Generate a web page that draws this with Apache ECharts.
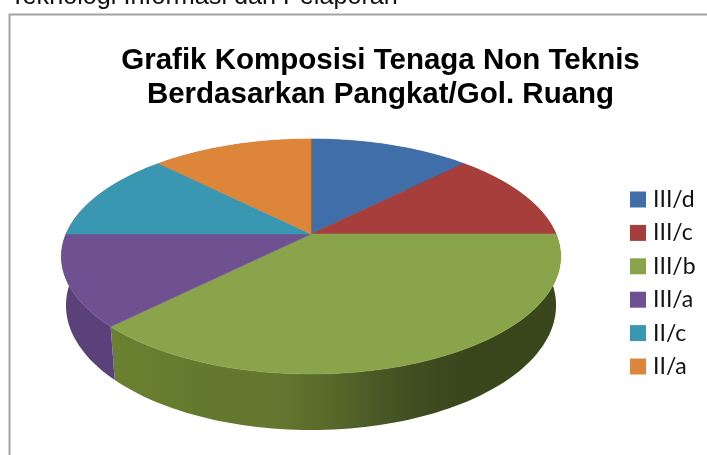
<!DOCTYPE html>
<html>
<head>
<meta charset="utf-8">
<style>html,body{margin:0;padding:0;background:#fff}#chart{width:707px;height:455px}</style>
<script src="https://cdn.jsdelivr.net/npm/echarts@6/dist/echarts.min.js"></script>
</head>
<body>
<div id="chart"></div>
<script>
// Composition of non-technical staff by rank / civil-service grade
const categories = ['III/d', 'III/c', 'III/b', 'III/a', 'II/c', 'II/a'];
const shares = [1, 1, 3, 1, 1, 1];
const topColors = ['#3f6ea8', '#a63f3c', '#8aa44c', '#6f5192', '#3a97b1', '#dd8538'];
const wallStops = [
  [[0, '#34598a'], [1, '#2a4870']],
  [[0, '#84322f'], [1, '#6a2826']],
  [[0, '#6a8131'], [0.2, '#63792e'], [0.37, '#63772f'], [0.5, '#55682a'], [0.6, '#485726'], [0.7, '#3f4c1f'], [0.8, '#39451b'], [1, '#3a461b']],
  [[0, '#5a4179'], [1, '#59407a']],
  [[0, '#2e7a90'], [1, '#266679']],
  [[0, '#b36a2a'], [1, '#945722']]
];

// Tilted-disc projection: fraction of a turn clockwise from 12 o'clock, z=0 on top, z=1 at the base
const view = { x: 311, y: 234, rx: 245, ry: 113.2, persp: 0.1915, depthY: 48.8, depthW: 0.018 };
function project(frac, z) {
  const t = frac * 2 * Math.PI;
  const u = Math.sin(t), v = -Math.cos(t);
  const w = 1 - view.persp * v + view.depthW * z;
  return [view.x + view.rx * u / w, view.y + (view.ry * v + view.depthY * z) / w];
}
function arc(from, to, z) {
  const steps = Math.max(4, Math.ceil((to - from) * 240));
  const pts = [];
  for (let i = 0; i <= steps; i++) pts.push(project(from + (to - from) * i / steps, z));
  return pts;
}

const total = shares.reduce((a, b) => a + b, 0);
let running = 0;
const ranges = shares.map(s => { const r = [running / total, (running + s) / total]; running += s; return r; });

function wallFill(stops) {
  return new echarts.graphic.LinearGradient(113, 0, 560, 0,
    stops.map(([offset, color]) => ({ offset, color })), true);
}

function sliceSeries(name, idx) {
  return {
    type: 'custom',
    name,
    coordinateSystem: 'none',
    itemStyle: { color: topColors[idx] },
    silent: true,
    data: [[ranges[idx][0], ranges[idx][1]]],
    renderItem(params, api) {
      const a = api.value(0), b = api.value(1);
      const top = arc(a, b, 0);
      const base = arc(a, b, 1).reverse();
      return {
        type: 'group',
        children: [
          { type: 'polygon', z2: 1, shape: { points: top.concat(base) }, style: { fill: wallFill(wallStops[idx]) } },
          { type: 'polygon', z2: 10, shape: { points: [[view.x, view.y]].concat(top) },
            style: { fill: topColors[idx], stroke: topColors[idx], lineWidth: 0.6 } }
        ]
      };
    }
  };
}

const series = categories.map(sliceSeries);

const chart = echarts.init(document.getElementById('chart'), null, { renderer: 'canvas' });
chart.setOption({
  animation: false,
  backgroundColor: '#ffffff',
  color: topColors,
  title: [
    {
      text: 'Grafik Komposisi Tenaga Non Teknis\nBerdasarkan Pangkat/Gol. Ruang',
      left: 375.5, top: 39, textAlign: 'center',
      textStyle: { fontFamily: '"Liberation Sans", Arial, sans-serif', fontWeight: 'bold', fontSize: 29.5, lineHeight: 34, color: '#000' }
    },
    {
      text: 'Teknologi Informasi dan Pelaporan',
      left: 5, top: -20,
      textStyle: { fontFamily: '"Liberation Sans", Arial, sans-serif', fontWeight: 'normal', fontSize: 25.2, color: '#111' }
    }
  ],
  legend: {
    orient: 'vertical',
    left: 625, top: 183,
    itemWidth: 16, itemHeight: 16, itemGap: 10.4,
    icon: 'rect',
    data: categories,
    selectedMode: false,
    textStyle: { fontFamily: 'Lato, "Open Sans", sans-serif', fontSize: 23, color: '#111', lineHeight: 21, padding: [0, 0, 0, 2] }
  },
  graphic: [{
    type: 'polyline', silent: true, z: -1,
    shape: { points: [[9.5, 470], [9.5, 14.5], [720, 14.5]] },
    style: { stroke: '#a3a3a3', lineWidth: 2, fill: null }
  }],
  series
});
</script>
</body>
</html>
